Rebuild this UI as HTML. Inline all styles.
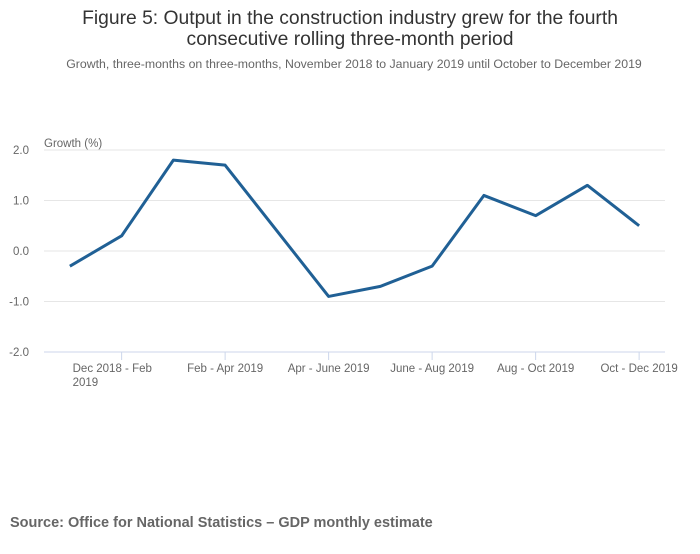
<!DOCTYPE html>
<html><head><meta charset="utf-8"><style>
body{margin:0;background:#fff;font-family:"Liberation Sans",sans-serif;}
</style></head><body>
<svg width="700" height="549" xmlns="http://www.w3.org/2000/svg" style="font-family:'Liberation Sans',sans-serif">
<text x="350" y="24" text-anchor="middle" font-size="19.3" fill="#333">Figure 5: Output in the construction industry grew for the fourth</text>
<text x="350" y="45" text-anchor="middle" font-size="19.3" fill="#333">consecutive rolling three-month period</text>
<text x="354" y="68" text-anchor="middle" font-size="12.3" fill="#666">Growth, three-months on three-months, November 2018 to January 2019 until October to December 2019</text>
<text x="44" y="147" font-size="11.5" fill="#666">Growth (%)</text>
<g id="grid"></g><g id="xax"></g>
<path id="line" fill="none" stroke="#206095" stroke-width="3" stroke-linejoin="round"/>
<text x="10" y="527" font-size="14.5" font-weight="bold" fill="#666">Source: Office for National Statistics – GDP monthly estimate</text>
</svg>
<script>
const categories=["Nov 2018 - Jan 2019","Dec 2018 - Feb 2019","Jan - Mar 2019","Feb - Apr 2019","Mar - May 2019","Apr - June 2019","May - Jul 2019","June - Aug 2019","Jul - Sep 2019","Aug - Oct 2019","Sep - Nov 2019","Oct - Dec 2019"];
const values=[-0.3,0.3,1.8,1.7,0.4,-0.9,-0.7,-0.3,1.1,0.7,1.3,0.5];
const yTicks=[2,1,0,-1,-2];
const yTickLabels=["2.0","1.0","0.0","-1.0","-2.0"];
const NS="http://www.w3.org/2000/svg";
const L=44,R=665,T=150,B=352,ymin=-2,ymax=2;
const bw=(R-L)/categories.length;
const xs=i=>L+bw*(i+0.5);
const ys=v=>B-(v-ymin)/(ymax-ymin)*(B-T);
const grid=document.getElementById('grid'),xax=document.getElementById('xax');
function mk(tag,at,parent){const e=document.createElementNS(NS,tag);for(const k in at)e.setAttribute(k,at[k]);parent.appendChild(e);return e;}
yTicks.forEach((t,i)=>{
 const ln=mk('line',{x1:L,x2:R,y1:ys(t),y2:ys(t),stroke:t===ymin?'#ccd6eb':'#e6e6e6','stroke-width':1},grid);
 
 
 const tx=mk('text',{x:29,y:ys(t)+4,'text-anchor':'end','font-size':11.5,fill:'#666'},grid);
 tx.textContent=yTickLabels[i];
 
 
});
categories.forEach((c,i)=>{
 if(i%2!==1)return;
 const x=xs(i);
 const tk=mk('line',{x1:x,x2:x,y1:B,y2:B+8,stroke:'#ccd6eb'},xax);
 
 
 const tx=mk('text',{x:x,y:B+20,'text-anchor':'middle','font-size':11.5,fill:'#666'},xax);
 
 
 if(c.length>16){
   const p=c.split(' ');const l2=p.pop();
   tx.setAttribute('text-anchor','start');
   tx.setAttribute('x',x-49);
   const a=mk('tspan',{x:x-49},tx);a.textContent=p.join(' ');
   const b=mk('tspan',{x:x-49,dy:14},tx);b.textContent=l2;
 } else tx.textContent=c;
});
document.getElementById('line').setAttribute('d',values.map((v,i)=>(i?'L':'M')+xs(i)+','+ys(v)).join(' '));
</script>
</body></html>
